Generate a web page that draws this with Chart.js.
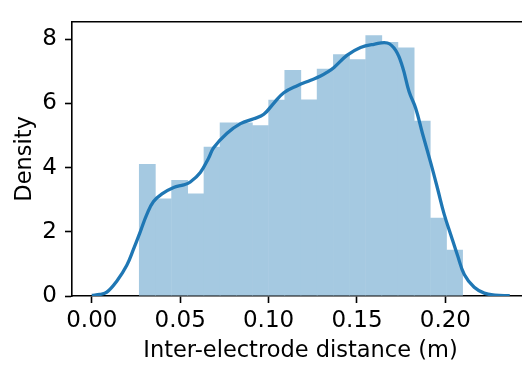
<!DOCTYPE html>
<html>
<head>
<meta charset="utf-8">
<script src="https://cdn.jsdelivr.net/npm/chart.js@4"></script>
<style>
  html, body { margin: 0; padding: 0; background: #fff; }
  #wrap { width: 522px; height: 366px; overflow: hidden; }
</style>
</head>
<body>
<div id="wrap"><canvas id="distChart" width="530" height="366"></canvas></div>
<script>
// histogram bins (centres, m) and densities
const binCenters = [0.0314, 0.0405, 0.0497, 0.0588, 0.0680, 0.0771, 0.0863, 0.0954, 0.1046, 0.1137,
                    0.1229, 0.1320, 0.1412, 0.1503, 0.1595, 0.1686, 0.1778, 0.1869, 0.1961, 0.2052];
const binDensity = [4.11, 3.04, 3.61, 3.19, 4.65, 5.40, 5.40, 5.32, 6.11, 7.04,
                    6.12, 7.08, 7.53, 7.37, 8.12, 7.91, 7.74, 5.46, 2.44, 1.44];

// kde curve
const kdeX = [0.0, 0.0045, 0.0085, 0.0142, 0.0198, 0.0236, 0.0274, 0.0312, 0.0349, 0.0397,
              0.0463, 0.0520, 0.0557, 0.0614, 0.0661, 0.0689, 0.0765, 0.0841, 0.0916, 0.0973,
              0.1030, 0.1086, 0.1162, 0.1238, 0.1294, 0.1332, 0.1370, 0.1445, 0.1520, 0.1596,
              0.1672, 0.1719, 0.1757, 0.1795, 0.1832, 0.1870, 0.1918, 0.1956, 0.1993, 0.2031,
              0.2069, 0.2107, 0.2163, 0.2220, 0.2280, 0.2364];
const kdeY = [0.02, 0.05, 0.12, 0.47, 0.96, 1.46, 2.00, 2.55, 2.94, 3.18,
              3.38, 3.46, 3.55, 3.85, 4.30, 4.62, 5.07, 5.37, 5.52, 5.66,
              6.01, 6.33, 6.55, 6.72, 6.85, 6.97, 7.12, 7.50, 7.74, 7.84,
              7.88, 7.65, 7.15, 6.36, 5.85, 5.07, 4.13, 3.34, 2.55, 1.90,
              1.26, 0.67, 0.27, 0.09, 0.03, 0.01];

const xTicks = [0.00, 0.05, 0.10, 0.15, 0.20];
const yTicks = [0, 2, 4, 6, 8];

const family = "'DejaVu Sans', sans-serif";
Chart.defaults.color = "#000";
Chart.defaults.font = { family, size: 23 };

// matplotlib-style box: top and right spines
const spines = {
  id: "spines",
  afterDraw(chart) {
    const { ctx, chartArea } = chart;
    ctx.save();
    ctx.strokeStyle = "#000";
    ctx.lineWidth = 1.6;
    ctx.beginPath();
    ctx.moveTo(chartArea.left - 0.8, chartArea.top);
    ctx.lineTo(chartArea.right, chartArea.top);
    ctx.lineTo(chartArea.right, chartArea.bottom);
    ctx.stroke();
    ctx.restore();
  }
};

const ctx = document.getElementById("distChart").getContext("2d");

new Chart(ctx, {
  data: {
    datasets: [{
      type: "line",
      data: kdeX.map((x, i) => ({ x, y: kdeY[i] })),
      borderColor: "#1f77b4",
      borderWidth: 3.3,
      pointRadius: 0,
      tension: 0.4,
      fill: false,
      order: 0
    }, {
      type: "bar",
      data: binCenters.map((x, i) => ({ x, y: binDensity[i] })),
      backgroundColor: "#a5c9e1",
      borderWidth: 0,
      barPercentage: 1.04,
      categoryPercentage: 1,
      order: 1
    }]
  },
  plugins: [spines],
  options: {
    responsive: false,
    animation: false,
    layout: { padding: { top: 8, right: 1, left: 0, bottom: 0 } },
    plugins: { legend: { display: false }, tooltip: { enabled: false } },
    scales: {
      x: {
        type: "linear",
        min: -0.0112,
        max: 0.2473,
        offset: false,
        grid: { offset: false, drawOnChartArea: false, drawTicks: true, tickLength: 7, tickWidth: 1.6, tickColor: "#000" },
        border: { color: "#000", width: 1.6 },
        afterBuildTicks: axis => { axis.ticks = xTicks.map(v => ({ value: v })); },
        afterFit: axis => { axis.height = 70; },
        ticks: { padding: 4, maxRotation: 0, callback: v => v.toFixed(2) },
        title: { display: true, text: "Inter-electrode distance (m)", font: { family, size: 22.5 }, padding: { top: 0, bottom: 1 } }
      },
      y: {
        min: 0,
        max: 8.54,
        grid: { drawOnChartArea: false, drawTicks: true, tickLength: 7, tickWidth: 1.6, tickColor: "#000" },
        border: { color: "#000", width: 1.6 },
        afterBuildTicks: axis => { axis.ticks = yTicks.map(v => ({ value: v })); },
        afterFit: axis => { axis.width = 72; },
        ticks: { padding: 8 },
        title: { display: true, text: "Density", font: { family, size: 22.5 }, padding: { top: 12, bottom: 0 } }
      }
    }
  }
});
</script>
</body>
</html>
